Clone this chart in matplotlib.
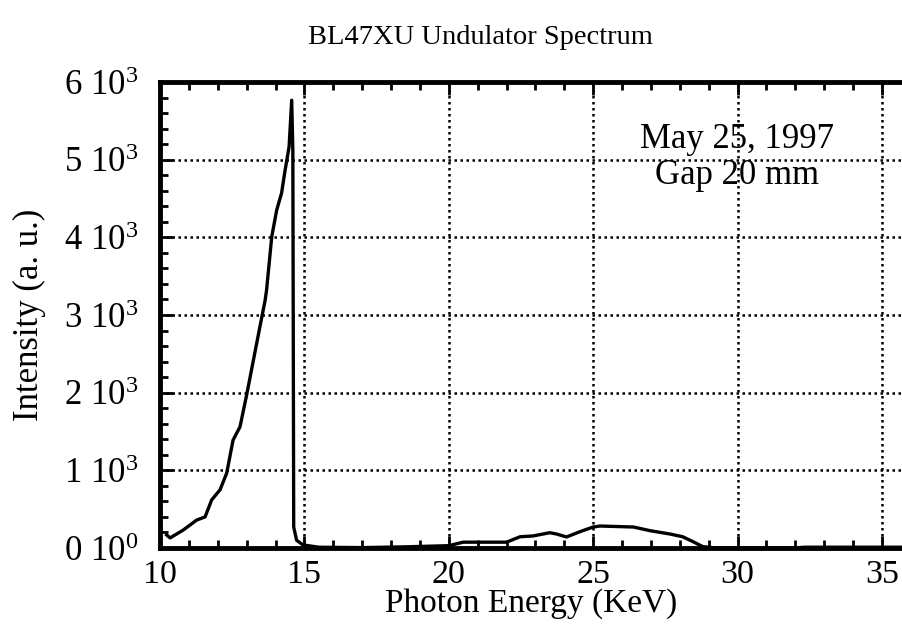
import matplotlib
matplotlib.use("Agg")
import matplotlib.pyplot as plt
from matplotlib.ticker import MultipleLocator, FixedLocator

plt.rcParams['font.family'] = ['Liberation Serif', 'DejaVu Serif']
plt.rcParams['mathtext.fontset'] = 'custom'
plt.rcParams['mathtext.rm'] = 'Liberation Serif'
plt.rcParams['mathtext.it'] = 'Liberation Serif:italic'

# Data
energy = [10.23, 10.35, 10.8, 11.27, 11.56, 11.79, 12.08, 12.31, 12.53, 12.77,
          13.0, 13.35, 13.64, 13.69, 13.87, 14.04, 14.21, 14.33, 14.47, 14.56,
          14.60, 14.63, 14.73, 14.95, 15.5, 17.0, 18.5, 20.0, 20.5, 22.0,
          22.47, 22.92, 23.5, 23.73, 24.08, 24.54, 25.0, 25.24, 26.4, 26.97,
          27.66, 28.1, 28.46, 28.8, 29.27, 32.0, 32.3, 35.73]
intensity = [167, 130, 230, 360, 400, 620, 750, 965, 1390, 1560,
             1970, 2640, 3190, 3320, 4010, 4350, 4570, 4860, 5165, 5765,
             5120, 270, 100, 40, 10, 5, 15, 30, 75, 75,
             145, 155, 197, 180, 142, 210, 270, 283, 270, 223,
             180, 145, 81, 17, 0, 0, 10, 10]

x_ticks = [10, 15, 20, 25, 30, 35]
y_ticks = [0, 1000, 2000, 3000, 4000, 5000, 6000]
y_tick_labels = [r"0 10$^{0}$", r"1 10$^{3}$", r"2 10$^{3}$", r"3 10$^{3}$",
                 r"4 10$^{3}$", r"5 10$^{3}$", r"6 10$^{3}$"]
title = "BL47XU Undulator Spectrum"
x_label = "Photon Energy (KeV)"
y_label = "Intensity (a. u.)"
note_date = "May 25, 1997"
note_gap = "Gap 20 mm"

fig = plt.figure(figsize=(9.03, 6.26), dpi=100)
ax = fig.add_axes([0.1772, 0.1246, 0.8228, 0.7444])
ax.set_xlim(10, 35.73)
ax.set_ylim(0, 6000)

ax.plot(energy, intensity, color='black', lw=2.4, zorder=3,
        solid_joinstyle='round')

ax.xaxis.set_major_locator(FixedLocator(x_ticks))
ax.xaxis.set_minor_locator(MultipleLocator(1))
ax.yaxis.set_major_locator(FixedLocator(y_ticks))
ax.yaxis.set_minor_locator(MultipleLocator(200))
ax.set_yticklabels(y_tick_labels)

ax.grid(True, which='major', color='black', lw=1.8, linestyle=(0, (1, 1.4)))

ax.tick_params(which='both', direction='in', top=True, right=False,
               width=2.0, color='black')
ax.tick_params(which='major', length=9)
ax.tick_params(which='minor', length=6)
ax.tick_params(axis='x', labelsize=24.5, pad=8.5)
ax.tick_params(axis='y', labelsize=25, pad=15.5)

for s in ['left', 'bottom', 'top']:
    ax.spines[s].set_linewidth(3.5)
ax.spines['right'].set_visible(False)

ax.set_xlabel(x_label, fontsize=24, labelpad=-1.5)
ax.set_ylabel(y_label, fontsize=25, labelpad=13)
fig.text(0.532, 0.94, title, fontsize=20.5, ha='center', va='center')
ax.text(29.98, 5260, note_date, fontsize=25, ha='center', va='center', zorder=4)
ax.text(29.98, 4790, note_gap, fontsize=25, ha='center', va='center', zorder=4)

fig.savefig("out.png", dpi=100)
